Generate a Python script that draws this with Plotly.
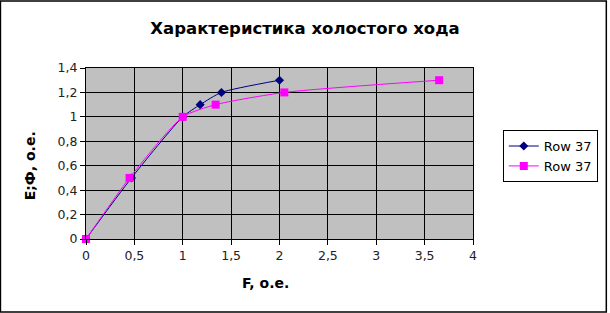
import plotly.graph_objects as go

title = "Характеристика холостого хода"
x_title = "F, о.е."
y_title = "E;Ф, о.е."

s1_name = "Row 37"
s1_x = [0, 0.47, 1.0, 1.18, 1.4, 2.0]
s1_y = [0, 0.5, 1.0, 1.1, 1.2, 1.3]

s2_name = "Row 37"
s2_x = [0, 0.45, 1.0, 1.34, 2.05, 3.65]
s2_y = [0, 0.5, 1.0, 1.1, 1.2, 1.3]

x_ticks = [0, 0.5, 1, 1.5, 2, 2.5, 3, 3.5, 4]
y_ticks = [0, 0.2, 0.4, 0.6, 0.8, 1.0, 1.2, 1.4]

font_family = "DejaVu Sans, Verdana, sans-serif"

L, R, T, B = 86, 135, 68, 74
PW, PH = 610 - L - R, 313 - T - B

fig = go.Figure()
fig.add_trace(go.Scatter(
    x=s1_x, y=s1_y, name=s1_name, mode="lines+markers",
    line=dict(color="#000080", width=1, shape="spline", smoothing=0.6),
    marker=dict(symbol="diamond", size=7, color="#000080"),
    cliponaxis=False,
))
fig.add_trace(go.Scatter(
    x=s2_x, y=s2_y, name=s2_name, mode="lines+markers",
    line=dict(color="#FF00FF", width=1, shape="spline", smoothing=0.6),
    marker=dict(symbol="square", size=8, color="#FF00FF"),
    cliponaxis=False,
))

axis_common = dict(
    showgrid=True, gridcolor="black", gridwidth=1,
    showline=True, linecolor="black", linewidth=1, mirror=True,
    ticks="outside", ticklen=5, tickcolor="black",
    zeroline=False,
    tickfont=dict(family=font_family, size=12.5, color="#222222"),
)

fig.update_layout(
    width=610, height=313,
    margin=dict(l=L, r=R, t=T, b=B),
    paper_bgcolor="white",
    plot_bgcolor="#C0C0C0",
    separators=", ",
    font=dict(family=font_family, color="black"),
    title=dict(text="<b>" + title + "</b>", x=0.5, xanchor="center", y=0.91, yanchor="middle",
               font=dict(family=font_family, size=16.5, color="black")),
    xaxis=dict(range=[0, 4], tickvals=x_ticks, tickformat=".1~f", **axis_common),
    yaxis=dict(range=[0, 1.4], tickvals=y_ticks, tickformat=".1~f", **axis_common),
    legend=dict(x=1.077, y=0.485, xanchor="left", yanchor="middle",
                bordercolor="black", borderwidth=1, bgcolor="white",
                font=dict(family=font_family, size=13, color="black"),
                tracegroupgap=2, itemwidth=30),
    showlegend=True,
)

fig.add_annotation(text="<b>" + x_title + "</b>", xref="paper", yref="paper",
                   x=(266 - L) / PW, y=-(283 - (313 - B)) / PH,
                   xanchor="center", yanchor="middle", showarrow=False,
                   font=dict(family=font_family, size=14, color="black"))
fig.add_annotation(text="<b>" + y_title + "</b>", xref="paper", yref="paper",
                   x=(30 - L) / PW, y=((313 - B) - 166) / PH, textangle=-90,
                   xanchor="center", yanchor="middle", showarrow=False,
                   font=dict(family=font_family, size=14, color="black"))

fig.add_shape(type="rect", xref="paper", yref="paper",
              x0=-86/389, x1=1 + 134/389, y0=-73/171, y1=1 + 67/171,
              line=dict(color="black", width=1.5), fillcolor="rgba(0,0,0,0)", layer="below")

fig.write_html("out.html")
